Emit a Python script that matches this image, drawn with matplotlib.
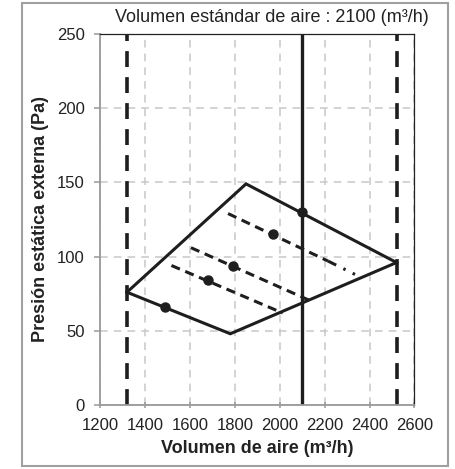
import matplotlib
matplotlib.use("Agg")
import matplotlib.pyplot as plt
from matplotlib.patches import Rectangle

plt.rcParams['font.family'] = ['Liberation Sans', 'DejaVu Sans']

# Data
x_ticks = [1200, 1400, 1600, 1800, 2000, 2200, 2400, 2600]
y_ticks = [0, 50, 100, 150, 200, 250]

upper_x = [1320, 1850, 2520]
upper_y = [76, 149, 96]
lower_x = [1320, 1780, 2520]
lower_y = [76, 48, 96]

dash1_x = [1518, 2013]
dash1_y = [94, 62]
dash2_x = [1605, 2140]
dash2_y = [106, 70]
dash3_x = [1770, 2215]
dash3_y = [129, 97]
dash3_tail_x = [2215, 2335]
dash3_tail_y = [97, 88]

points_x = [1490, 1680, 1790, 1970, 2100]
points_y = [66, 84, 94, 115, 130]

limit_min = 1320
limit_max = 2520
standard_flow = 2100

fig = plt.figure(figsize=(4.56, 4.69), dpi=100)
ax = fig.add_axes([100/456, 64/469, 314.5/456, 371/469])

ax.set_xlim(1200, 2600)
ax.set_ylim(0, 250)
ax.set_xticks(x_ticks)
ax.set_yticks(y_ticks)

ax.grid(True, color='#c8c8c8', linestyle=(0, (5, 4)), linewidth=1.1)
ax.set_axisbelow(True)

k = '#1e1e1e'
ax.axvline(limit_min, color=k, lw=2.6, linestyle=(0, (4.4, 2.8)))
ax.axvline(limit_max, color=k, lw=2.6, linestyle=(0, (4.4, 2.8)))
ax.axvline(standard_flow, color=k, lw=2.4)

ax.plot(upper_x, upper_y, color=k, lw=2.2, solid_joinstyle='miter')
ax.plot(lower_x, lower_y, color=k, lw=2.2, solid_joinstyle='miter')

ax.plot(dash1_x, dash1_y, color=k, lw=2.2, linestyle=(0, (3.0, 1.9)))
ax.plot(dash2_x, dash2_y, color=k, lw=2.2, linestyle=(0, (3.0, 1.9)))
ax.plot(dash3_x, dash3_y, color=k, lw=2.2, linestyle=(0, (3.0, 1.9)))
ax.plot(dash3_tail_x, dash3_tail_y, color=k, lw=2.2, linestyle=(0, (3.0, 2.6, 0.8, 2.6)))

ax.plot(points_x, points_y, 'o', color=k, markersize=6.5, zorder=5)

for s in ['left', 'bottom']:
    ax.spines[s].set_color('#999999')
    ax.spines[s].set_linewidth(1.3)
for s in ['top', 'right']:
    ax.spines[s].set_color('#222222')
    ax.spines[s].set_linewidth(0.9)

ax.tick_params(axis='both', colors='#999999', labelcolor='#222222', labelsize=12, width=1.1)
ax.tick_params(axis='y', length=4.5, pad=6.5)
ax.tick_params(axis='x', direction='inout', length=5, pad=7)

ax.set_xlabel('Volumen de aire (m³/h)', fontsize=13, fontweight='bold', color='#222222', labelpad=5)
ax.set_ylabel('Presión estática externa (Pa)', fontsize=13, fontweight='bold', color='#222222', labelpad=6)

fig.text(272/456, 1 - 18/469, 'Volumen estándar de aire : 2100 (m³/h)', ha='center', va='center',
         fontsize=13, color='#222222')

fig.patches.append(Rectangle((22/456, 3/469), 426/456, 463/469, transform=fig.transFigure,
                             fill=False, edgecolor='#a0a0a0', linewidth=1.5))

fig.savefig('out.png', dpi=100)
